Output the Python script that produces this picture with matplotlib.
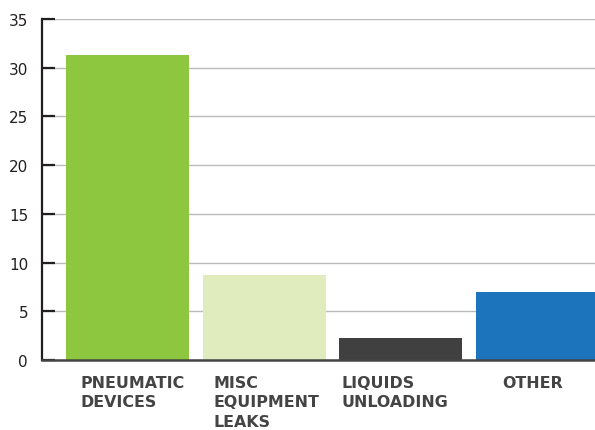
import matplotlib
matplotlib.use("Agg")
import matplotlib.pyplot as plt
import matplotlib.transforms as mtransforms

# data
categories = ["PNEUMATIC\nDEVICES", "MISC\nEQUIPMENT\nLEAKS", "LIQUIDS\nUNLOADING", "OTHER"]
values = [31.3, 8.7, 2.3, 7.0]
colors = ["#8DC63F", "#E0EBBE", "#404041", "#1C75BC"]
yticks = [0, 5, 10, 15, 20, 25, 30, 35]

# label left edge relative to bar centre (data units)
label_offsets = [-0.347, -0.367, -0.432, -0.26]

fig = plt.figure(figsize=(5.95, 4.31), dpi=100)
ax = fig.add_axes([42 / 595, 1 - 361 / 431, 1 - 42 / 595, (361 - 20) / 431])

x = list(range(len(values)))
ax.bar(x, values, width=0.9, color=colors, zorder=2)

ax.set_xlim(-0.625, 3.42)
ax.set_ylim(0, 35)
ax.set_yticks(yticks)
ax.set_yticklabels([str(t) for t in yticks], fontsize=11, color="#231F20",
                   family="DejaVu Sans")
ax.set_xticks([])

ax.yaxis.grid(True, color="#BBBBBB", linewidth=1, zorder=0)
ax.set_axisbelow(True)
ax.tick_params(axis="y", direction="in", length=9.4, width=1.6, color="#231F20", pad=10)

for side in ["top", "right"]:
    ax.spines[side].set_visible(False)
ax.spines["left"].set_color("#231F20")
ax.spines["left"].set_linewidth(1.6)
ax.spines["bottom"].set_color("#444444")
ax.spines["bottom"].set_linewidth(1.8)
ax.spines["bottom"].set_zorder(3)

trans = mtransforms.blended_transform_factory(ax.transData, ax.transAxes)
for xi, lab, off in zip(x, categories, label_offsets):
    ax.text(xi + off, -0.043, lab, transform=trans, ha="left", va="top",
            fontsize=11.4, fontweight="bold", color="#444444", family="DejaVu Sans",
            linespacing=1.4)

fig.savefig("out.png", dpi=100)
